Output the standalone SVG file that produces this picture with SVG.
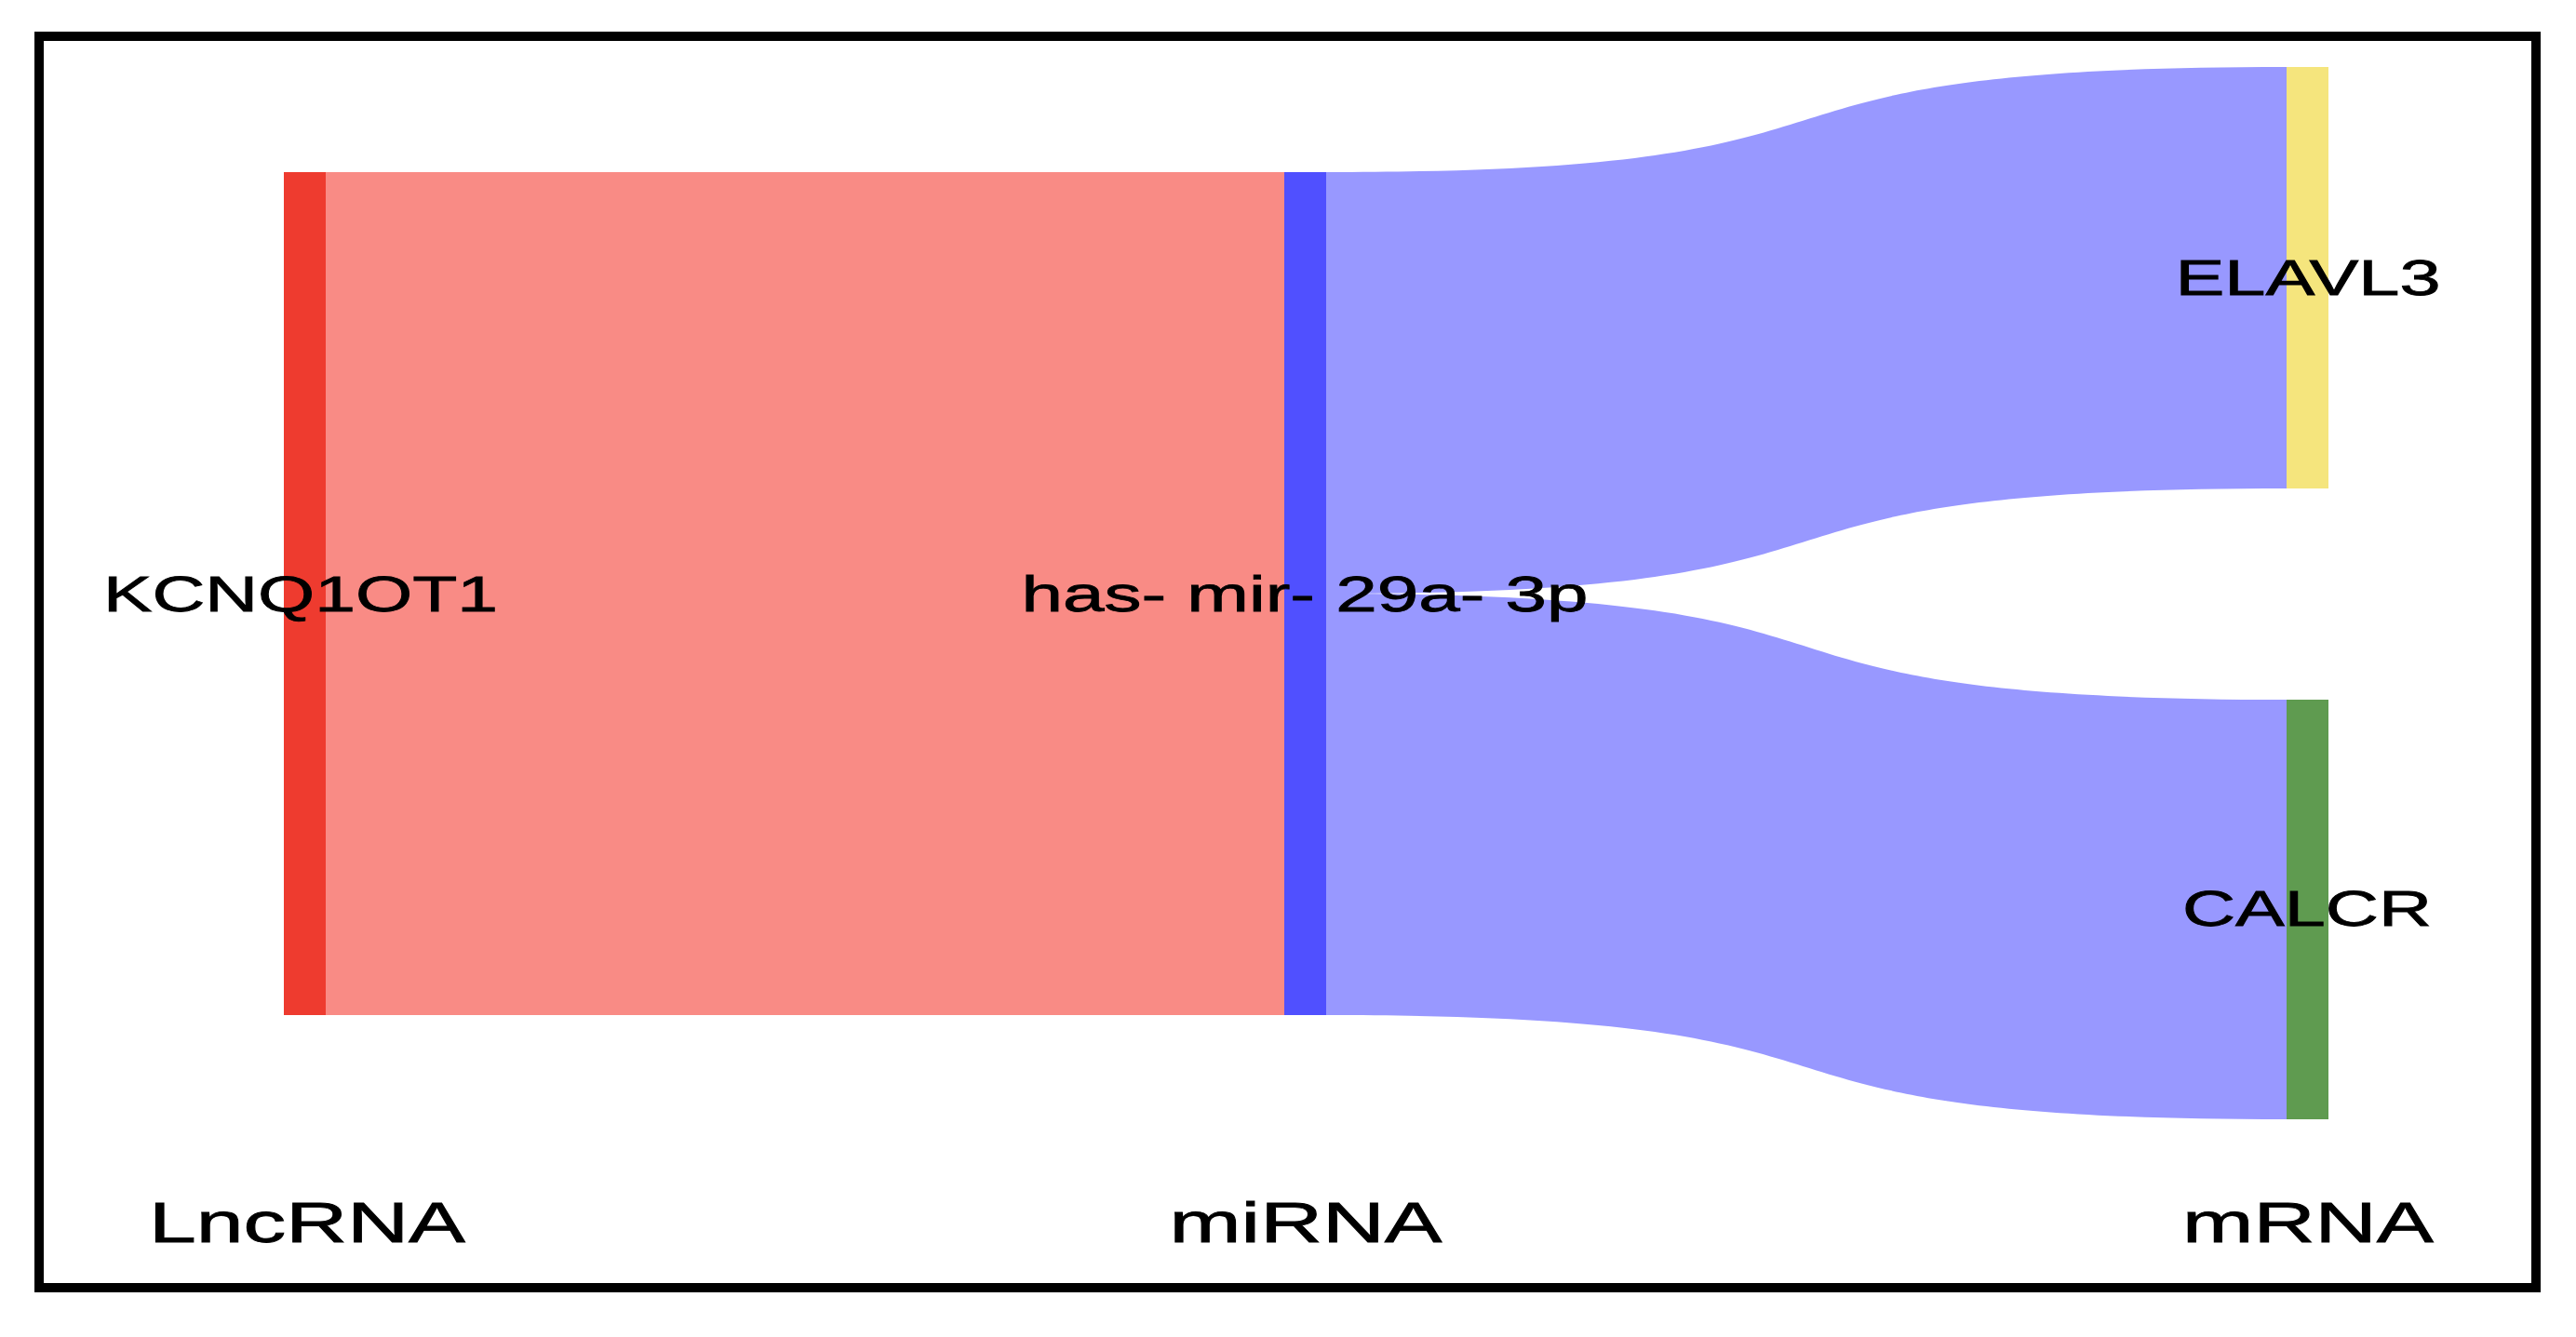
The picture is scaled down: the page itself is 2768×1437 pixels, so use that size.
<svg xmlns="http://www.w3.org/2000/svg" width="2768" height="1437" viewBox="0 0 2768 1437">
<style>
  .lbl { font-family: "Liberation Sans", Arial, sans-serif; font-size: 53px; fill: #000; stroke: #000; stroke-width: 0.8; text-anchor: middle; }
  .axis { font-family: "Liberation Sans", Arial, sans-serif; font-size: 61px; fill: #000; stroke: #000; stroke-width: 0.8; text-anchor: middle; }
  .lnk-pink { fill: #F98B85; }
  .lnk-blue { fill: #9898FF; }
</style>
<rect x="0" y="0" width="2768" height="1437" fill="#fff"/>
<rect x="42" y="39" width="2683" height="1345" fill="none" stroke="#000" stroke-width="10"/>
<g id="connectors">
  <path class="lnk-pink" d="M350,185 L1380,185 L1380,1091 L350,1091 Z"/>
  <path class="lnk-blue" d="M1425,185 C2096,185 1786,72 2457,72 L2457,525 C1786,525 2096,638 1425,638 Z"/>
  <path class="lnk-blue" d="M1425,638 C2096,638 1786,752 2457,752 L2457,1203 C1786,1203 2096,1091 1425,1091 Z"/>
</g>
<g id="node-KCNQ1OT1">
  <rect x="305" y="185" width="45" height="906" fill="#EE3B2F"/>
  <text class="lbl" x="323" y="657" textLength="424" lengthAdjust="spacingAndGlyphs">KCNQ1OT1</text>
</g>
<g id="node-mir29a">
  <rect x="1380" y="185" width="45" height="906" fill="#5050FF"/>
  <text class="lbl" x="1402" y="657" textLength="609" lengthAdjust="spacingAndGlyphs">has- mir- 29a- 3p</text>
</g>
<g id="node-ELAVL3">
  <rect x="2457" y="72" width="45" height="453" fill="#F5E57D"/>
  <text class="lbl" x="2480" y="317" textLength="285" lengthAdjust="spacingAndGlyphs">ELAVL3</text>
</g>
<g id="node-CALCR">
  <rect x="2457" y="752" width="45" height="451" fill="#5F9B50"/>
  <text class="lbl" x="2479" y="995" textLength="268" lengthAdjust="spacingAndGlyphs">CALCR</text>
</g>
<g id="axis-labels">
  <text class="axis" x="330" y="1335" textLength="340" lengthAdjust="spacingAndGlyphs">LncRNA</text>
  <text class="axis" x="1403" y="1335" textLength="293" lengthAdjust="spacingAndGlyphs">miRNA</text>
  <text class="axis" x="2480" y="1335" textLength="270" lengthAdjust="spacingAndGlyphs">mRNA</text>
</g>
</svg>
